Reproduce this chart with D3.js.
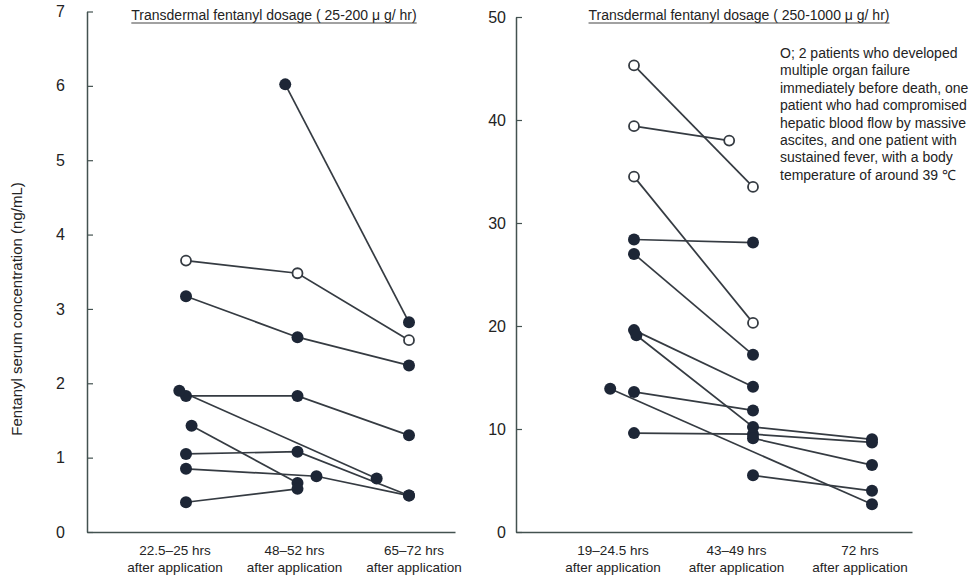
<!DOCTYPE html>
<html>
<head>
<meta charset="utf-8">
<script src="https://cdn.jsdelivr.net/npm/d3@7"></script>
<style>
  body { margin: 0; background: #fff; }
  text { font-family: "Liberation Sans", Arial, sans-serif; fill: #232323; }
</style>
</head>
<body>
<div id="container"></div>
<script>
// DATA
// slot = position along the time axis (0, 1, 2 = the three sampling windows)
const lowDoseCategories = ["22.5–25 hrs", "48–52 hrs", "65–72 hrs"];
const highDoseCategories = ["19–24.5 hrs", "43–49 hrs", "72 hrs"];
const lowDoseTicks = [0, 1, 2, 3, 4, 5, 6, 7];
const highDoseTicks = [0, 10, 20, 30, 40, 50];

const lowDosePatients = [
  { open: true,  points: [[0, 3.65], [1, 3.48], [2, 2.58]] },
  { open: false, points: [[0, 3.17], [1, 2.62], [2, 2.24]] },
  { open: false, points: [[0.89, 6.02], [2, 2.82]] },
  { open: false, points: [[0, 1.83], [1, 1.83], [2, 1.30]] },
  { open: false, points: [[-0.06, 1.90], [1.71, 0.72]] },
  { open: false, points: [[0.05, 1.43], [1, 0.66]] },
  { open: false, points: [[0, 1.05], [1, 1.08], [2, 0.49]] },
  { open: false, points: [[0, 0.85], [1.17, 0.75], [2, 0.49]] },
  { open: false, points: [[0, 0.40], [1, 0.58]] }
];

const highDosePatients = [
  { open: true,  points: [[0, 45.3], [1, 33.5]] },
  { open: true,  points: [[0, 39.4], [0.8, 38.0]] },
  { open: true,  points: [[0, 34.5], [1, 20.3]] },
  { open: false, points: [[0, 28.4], [1, 28.1]] },
  { open: false, points: [[0, 27.0], [1, 17.2]] },
  { open: false, points: [[0, 19.6], [1, 14.1]] },
  { open: false, points: [[0.02, 19.1], [1, 10.2], [2, 9.0]] },
  { open: false, points: [[-0.2, 13.9], [2, 2.7]] },
  { open: false, points: [[0, 13.6], [1, 11.8]] },
  { open: false, points: [[0, 9.6], [1, 9.5], [2, 8.7]] },
  { open: false, points: [[1, 9.1], [2, 6.5]] },
  { open: false, points: [[1, 5.5], [2, 4.0]] }
];

const legendLines = [
  "O; 2 patients who developed",
  "multiple organ failure",
  "immediately before death, one",
  "patient who had compromised",
  "hepatic blood flow by massive",
  "ascites, and one patient with",
  "sustained fever, with a body",
  "temperature of around 39 \u2103"
];

// LAYOUT
const width = 974;
const height = 579;
const baseY = 532;

const panels = [
  {
    patients: lowDosePatients, categories: lowDoseCategories, ticks: lowDoseTicks,
    yMax: 7, top: 11.5, axisX: 87, axisEnd: 455,
    slotRange: [186, 409], labelRange: [175, 414], tickPad: 22,
    title: "Transdermal fentanyl dosage ( 25-200 \u03bc g/ hr)", titleX: 274
  },
  {
    patients: highDosePatients, categories: highDoseCategories, ticks: highDoseTicks,
    yMax: 50, top: 17, axisX: 516, axisEnd: 912,
    slotRange: [634, 872], labelRange: [613, 860], tickPad: 10,
    title: "Transdermal fentanyl dosage ( 250-1000 \u03bc g/ hr)", titleX: 739
  }
];

const svg = d3.select("#container")
  .append("svg")
  .attr("width", width)
  .attr("height", height);

panels.forEach(p => {
  const yScale = d3.scaleLinear().domain([0, p.yMax]).range([baseY, p.top]);
  const xScale = d3.scaleLinear().domain([0, 2]).range(p.slotRange);
  const labelScale = d3.scalePoint().domain(p.categories).range(p.labelRange);

  const g = svg.append("g");

  // y axis, ticks pointing inwards
  const yAxis = g.append("g")
    .attr("transform", `translate(${p.axisX},0)`)
    .call(d3.axisLeft(yScale)
      .tickValues(p.ticks)
      .tickFormat(d3.format("d"))
      .tickSize(-6)
      .tickSizeOuter(0)
      .tickPadding(p.tickPad));
  yAxis.select(".domain").attr("stroke", "#435250").attr("stroke-width", 1.5);
  yAxis.selectAll(".tick line").attr("stroke", "#435250").attr("stroke-width", 1.2);
  yAxis.selectAll(".tick text")
    .attr("font-size", 16)
    .attr("fill", "#232323")
    .style("font-family", "'Liberation Sans', Arial, sans-serif");

  // x axis line only
  const xAxisScale = d3.scaleLinear().domain([0, 1]).range([p.axisX, p.axisEnd]);
  g.append("g")
    .attr("transform", `translate(0,${baseY})`)
    .call(d3.axisBottom(xAxisScale).tickValues([]).tickSizeOuter(0))
    .select(".domain").attr("stroke", "#435250").attr("stroke-width", 1.5);

  // category labels
  const labels = g.selectAll("text.cat")
    .data(p.categories)
    .enter()
    .append("text")
    .attr("class", "cat")
    .attr("text-anchor", "middle")
    .attr("font-size", 13.5)
    .attr("x", d => labelScale(d));
  labels.append("tspan").attr("x", d => labelScale(d)).attr("y", 555).text(d => d);
  labels.append("tspan").attr("x", d => labelScale(d)).attr("y", 572).text("after application");

  // title, underlined
  const title = g.append("text")
    .attr("x", p.titleX)
    .attr("y", 20)
    .attr("text-anchor", "middle")
    .attr("font-size", 14)
    .text(p.title);
  const bb = title.node().getBBox();
  g.append("line")
    .attr("x1", bb.x).attr("x2", bb.x + bb.width)
    .attr("y1", 23).attr("y2", 23)
    .attr("stroke", "#444").attr("stroke-width", 1.2);

  // patient lines
  const line = d3.line()
    .x(d => xScale(d[0]))
    .y(d => yScale(d[1]));

  g.selectAll("path.patient")
    .data(p.patients)
    .enter()
    .append("path")
    .attr("class", "patient")
    .attr("d", d => line(d.points))
    .attr("fill", "none")
    .attr("stroke", "#353b42")
    .attr("stroke-width", 1.7);

  // points
  const pts = p.patients.flatMap(d => d.points.map(pt => ({ open: d.open, slot: pt[0], value: pt[1] })));
  g.selectAll("circle.pt")
    .data(pts)
    .enter()
    .append("circle")
    .attr("class", "pt")
    .attr("cx", d => xScale(d.slot))
    .attr("cy", d => yScale(d.value))
    .attr("r", d => d.open ? 5 : 6)
    .attr("fill", d => d.open ? "#fff" : "#1d2636")
    .attr("stroke", d => d.open ? "#353b42" : "none")
    .attr("stroke-width", 1.8);
});

// y axis title
svg.append("text")
  .attr("transform", "translate(22,309) rotate(-90)")
  .attr("text-anchor", "middle")
  .attr("font-size", 15)
  .text("Fentanyl serum concentration (ng/mL)");

// legend note
svg.append("text")
  .attr("class", "note")
  .attr("font-size", 14)
  .selectAll("tspan")
  .data(legendLines)
  .enter()
  .append("tspan")
  .attr("x", 780)
  .attr("y", (d, i) => 58 + i * 17.4)
  .text(d => d);
</script>
</body>
</html>
